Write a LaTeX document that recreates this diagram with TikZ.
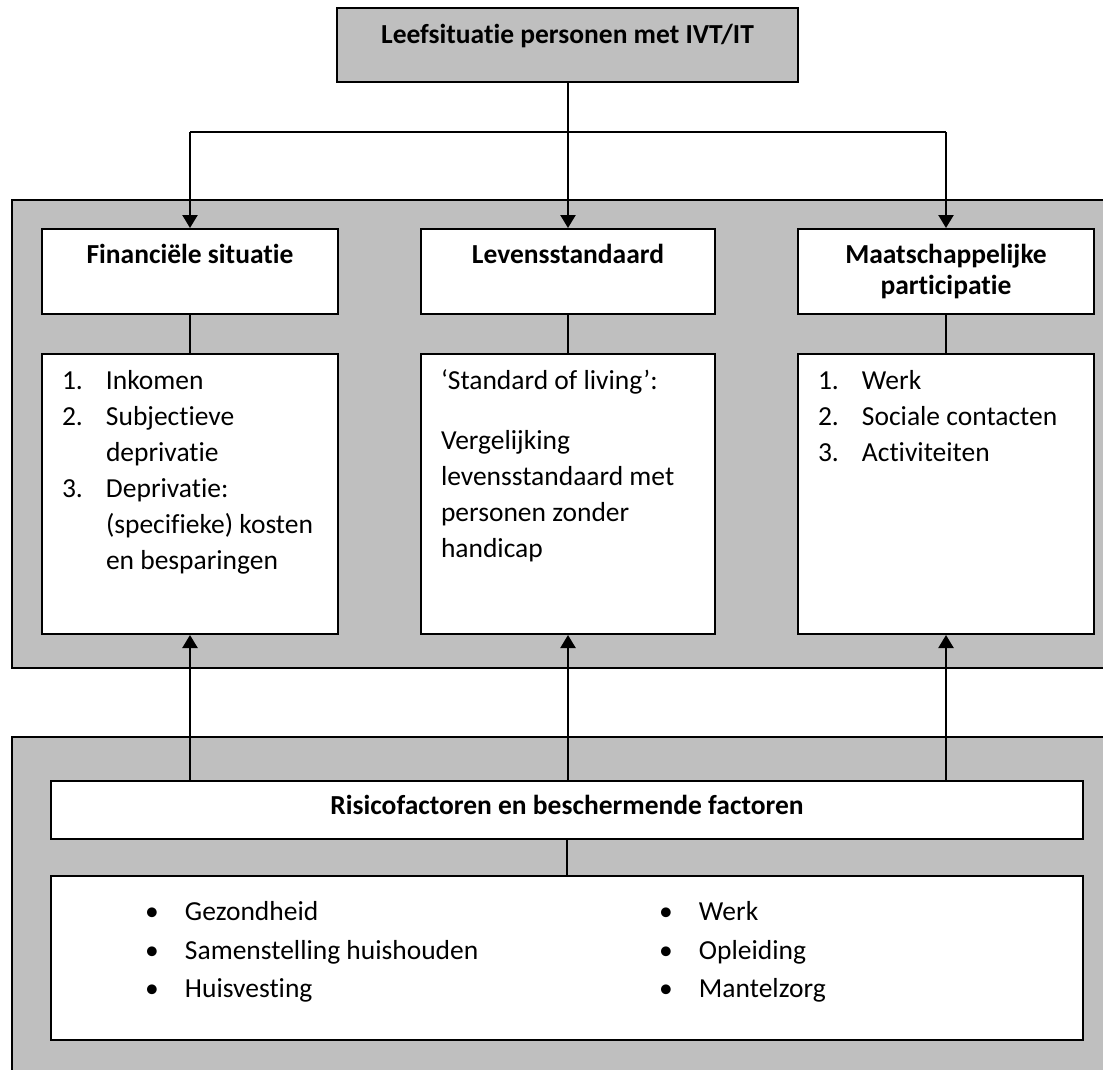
\documentclass[tikz,border=0pt]{standalone}
\usepackage{fontspec}
\setmainfont{Carlito}[Ligatures=NoCommon]
\usetikzlibrary{arrows.meta}
\tikzset{>={Triangle[width=15pt,length=13pt]}}
\definecolor{panelgray}{RGB}{191,191,191}
\newcommand{\bodyfont}{\fontsize{27.5}{36}\selectfont}
\newcommand{\headfont}{\fontsize{27.5}{31}\selectfont\bfseries}
\newcommand{\inbox}[3]{\parbox[t][#1][t]{#2}{#3}}

\begin{document}
\begin{tikzpicture}[x=1pt, y=-1pt,
    panel/.style={draw, fill=panelgray, line width=1.6pt},
    hdrbox/.style={draw, fill=white, line width=2pt, anchor=north west, inner xsep=0pt, font=\headfont},
    txtbox/.style={draw, fill=white, line width=2pt, anchor=north west, inner xsep=20pt, inner ysep=10pt, font=\bodyfont},
    flow/.style={line width=2.3pt},
    link/.style={line width=1.5pt}]
        \useasboundingbox (0,0) rectangle (1103,1069);
        \draw[panel] (12,200) rectangle (1125,668);
        \draw[panel] (12,737) rectangle (1125,1095);

        \node[hdrbox, fill=panelgray, inner ysep=14pt] (top) at (336,7) {\inbox{46pt}{461pt}{\centering\strut Leefsituatie personen met IVT/IT}};

        \node[hdrbox, inner ysep=13pt] (finhead) at (41,228) {\inbox{59pt}{296pt}{\centering\strut Financiële situatie}};
        \node[hdrbox, inner ysep=13pt] (levhead) at (420,228) {\inbox{59pt}{294pt}{\centering\strut Levensstandaard}};
        \node[hdrbox, inner ysep=13pt] (maathead) at (797,228) {\inbox{59pt}{296pt}{\centering\strut Maatschappelijke\\ participatie}};

        \node[txtbox] (finlist) at (41,353) {\inbox{260pt}{256pt}{\begin{tabular}[t]{@{}p{44pt}@{}l@{}}
            1. & Inkomen\\ 2. & Subjectieve\\ & deprivatie\\ 3. & Deprivatie:\\ & (specifieke) kosten\\ & en besparingen\end{tabular}}};
        \node[txtbox] (levlist) at (420,353) {\inbox{260pt}{254pt}{\raggedright\strut ‘Standard of living’:\\[24pt]
            Vergelijking\\ levensstandaard met\\ personen zonder\\ handicap}};
        \node[txtbox] (maatlist) at (797,353) {\inbox{260pt}{256pt}{\begin{tabular}[t]{@{}p{44pt}@{}l@{}}
            1. & Werk\\ 2. & Sociale contacten\\ 3. & Activiteiten\end{tabular}}};

        \node[hdrbox, inner ysep=12pt] (risico) at (50,780) {\inbox{34pt}{1032pt}{\centering\strut Risicofactoren en beschermende factoren}};
        \node[txtbox, inner xsep=0pt, inner ysep=18pt, font={\fontsize{27.5}{38.5}\selectfont}] (factors) at (50,875) {\inbox{128pt}{1032pt}{\hspace*{94pt}\begin{tabular}[t]{@{}p{40pt}@{}p{474pt}@{}p{40pt}@{}l@{}}
            \textbullet & Gezondheid & \textbullet & Werk\\
            \textbullet & Samenstelling huishouden & \textbullet & Opleiding\\
            \textbullet & Huisvesting & \textbullet & Mantelzorg\end{tabular}}};

        \coordinate (fork) at (566,132);
        \draw[flow, ->] (levhead.north |- top.south) -- (levhead.north);
        \draw[flow] (finhead.north |- fork) -- (maathead.north |- fork);
        \draw[flow, ->] (finhead.north |- fork) -- (finhead.north);
        \draw[flow, ->] (maathead.north |- fork) -- (maathead.north);

        \draw[link] (finhead.south) -- (finlist.north);
        \draw[link] (levhead.south) -- (levlist.north);
        \draw[link] (maathead.south) -- (maatlist.north);

        \draw[flow, ->] (risico.north -| finlist.south) -- (finlist.south);
        \draw[flow, ->] (risico.north -| levlist.south) -- (levlist.south);
        \draw[flow, ->] (risico.north -| maatlist.south) -- (maatlist.south);
        \draw[link] (risico.south) -- (factors.north);
    \end{tikzpicture}
\end{document}
